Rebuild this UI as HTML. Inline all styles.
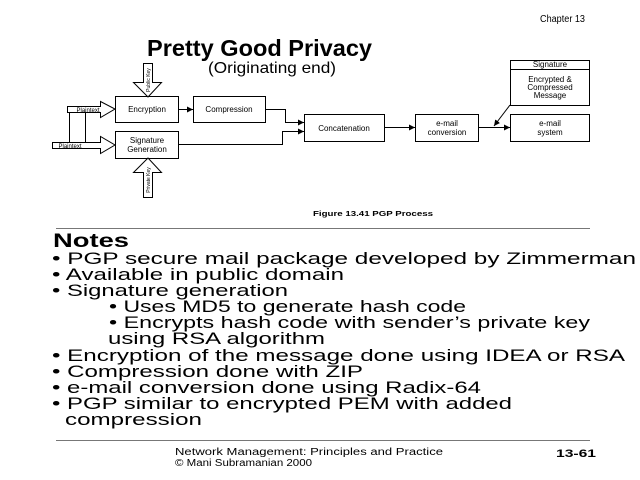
<!DOCTYPE html>
<html><head><meta charset="utf-8"><style>
html,body{margin:0;padding:0;background:#fff;}
svg{display:block;font-family:"Liberation Sans",Arial,sans-serif;}
</style></head><body>
<svg width="640" height="480" viewBox="0 0 640 480" xmlns="http://www.w3.org/2000/svg">
<defs><marker id="a" markerWidth="6" markerHeight="6" refX="6" refY="3" orient="auto" markerUnits="userSpaceOnUse"><path d="M0,0 L6,3 L0,6 z" fill="#000"/></marker></defs>
<text x="540" y="22" font-size="10" textLength="45" lengthAdjust="spacingAndGlyphs">Chapter 13</text>
<text x="147" y="56" font-size="23" font-weight="bold" textLength="225" lengthAdjust="spacingAndGlyphs">Pretty Good Privacy</text>
<text x="208" y="73" font-size="16" textLength="128" lengthAdjust="spacingAndGlyphs">(Originating end)</text>
<g fill="#fff" stroke="#000" stroke-width="1">
<rect x="115.5" y="96.5" width="63" height="26"/>
<rect x="193.5" y="96.5" width="72" height="26"/>
<rect x="115.5" y="131.5" width="63" height="27"/>
<rect x="304.5" y="114.5" width="80" height="27"/>
<rect x="415.5" y="114.5" width="63" height="27"/>
<rect x="510.5" y="114.5" width="79" height="27"/>
<rect x="510.5" y="60.5" width="79" height="45"/>
<line x1="510" y1="69.5" x2="590" y2="69.5"/>
<path d="M67.5,106.5 H100.5 V101.5 L115,109 L100.5,117.5 V112.5 H67.5 z"/>
<path d="M52.5,142.5 H100.5 V136.5 L115,145 L100.5,153.5 V148.5 H52.5 z"/>
<path d="M143.5,63.5 H152.5 V82.5 H161.5 L148,97 L133.5,82.5 H143.5 z"/>
<path d="M143.5,197.5 H152.5 V172.5 H161.5 L148,158 L133.5,172.5 H143.5 z"/>
<line x1="69.5" y1="112" x2="69.5" y2="142"/>
<line x1="85.5" y1="112" x2="85.5" y2="142"/>
</g>
<g fill="none" stroke="#000" stroke-width="1">
<line x1="178" y1="109.5" x2="193" y2="109.5" marker-end="url(#a)"/>
<path d="M265,109.5 H285.5 V122.5 H304" marker-end="url(#a)"/>
<path d="M178,144.5 H282.5 V131.5 H304" marker-end="url(#a)"/>
<line x1="384" y1="127.5" x2="415" y2="127.5" marker-end="url(#a)"/>
<line x1="478" y1="127.5" x2="510" y2="127.5" marker-end="url(#a)"/>
<line x1="510" y1="105" x2="494" y2="126" marker-end="url(#a)"/>
</g>
<g font-size="8" text-anchor="middle">
<text x="147" y="112">Encryption</text>
<text x="229" y="112">Compression</text>
<text x="147" y="143">Signature</text>
<text x="147" y="152">Generation</text>
<text x="344" y="131">Concatenation</text>
<text x="447" y="126">e-mail</text>
<text x="447" y="135">conversion</text>
<text x="550" y="126">e-mail</text>
<text x="550" y="135">system</text>
<text x="550" y="67">Signature</text>
<text x="550" y="82">Encrypted &amp;</text>
<text x="550" y="90">Compressed</text>
<text x="550" y="98">Message</text>
<text x="88" y="112" font-size="6">Plaintext</text>
<text x="70" y="148" font-size="6">Plaintext</text>
<text transform="translate(150,80) rotate(-90)" font-size="5">Public Key</text>
<text transform="translate(150,180) rotate(-90)" font-size="5">Private Key</text>
</g>
<text x="313" y="216" font-size="7" font-weight="bold" textLength="120" lengthAdjust="spacingAndGlyphs">Figure 13.41 PGP Process</text>
<line x1="56" y1="228.5" x2="590" y2="228.5" stroke="#777"/>
<g font-size="17" lengthAdjust="spacingAndGlyphs">
<text x="53" y="247" font-size="19" font-weight="bold" textLength="76" lengthAdjust="spacingAndGlyphs">Notes</text>
<text x="52" y="264" textLength="584" lengthAdjust="spacingAndGlyphs">• PGP secure mail package developed by Zimmerman</text>
<text x="52" y="280" textLength="292" lengthAdjust="spacingAndGlyphs">• Available in public domain</text>
<text x="52" y="296" textLength="236" lengthAdjust="spacingAndGlyphs">• Signature generation</text>
<text x="109" y="312" textLength="357" lengthAdjust="spacingAndGlyphs">• Uses MD5 to generate hash code</text>
<text x="109" y="328" textLength="481" lengthAdjust="spacingAndGlyphs">• Encrypts hash code with sender’s private key</text>
<text x="108" y="344" textLength="217" lengthAdjust="spacingAndGlyphs">using RSA algorithm</text>
<text x="52" y="361" textLength="573" lengthAdjust="spacingAndGlyphs">• Encryption of the message done using IDEA or RSA</text>
<text x="52" y="377" textLength="311" lengthAdjust="spacingAndGlyphs">• Compression done with ZIP</text>
<text x="52" y="393" textLength="429" lengthAdjust="spacingAndGlyphs">• e-mail conversion done using Radix-64</text>
<text x="52" y="409" textLength="460" lengthAdjust="spacingAndGlyphs">• PGP similar to encrypted PEM with added</text>
<text x="65" y="425" textLength="137" lengthAdjust="spacingAndGlyphs">compression</text>
</g>
<line x1="56" y1="440.5" x2="590" y2="440.5" stroke="#777"/>
<text x="175" y="455" font-size="10" textLength="268" lengthAdjust="spacingAndGlyphs">Network Management: Principles and Practice</text>
<text x="175" y="466" font-size="10" textLength="137" lengthAdjust="spacingAndGlyphs">©  Mani Subramanian 2000</text>
<text x="556" y="457" font-size="11" font-weight="bold" textLength="40" lengthAdjust="spacingAndGlyphs">13-61</text>
</svg>
</body></html>
